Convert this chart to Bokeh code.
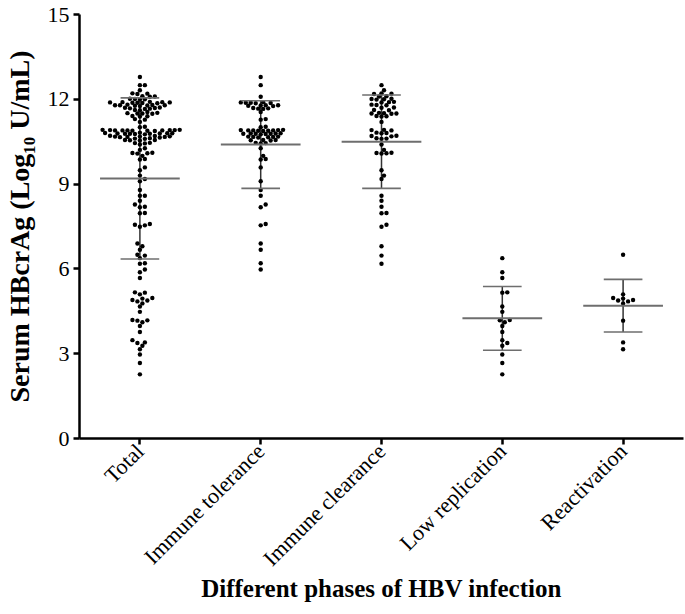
import math
from bokeh.plotting import figure
from bokeh.models import Range1d, FixedTicker, ColumnDataSource
from bokeh.embed import file_html
from bokeh.resources import INLINE

# ---------------- data ----------------
categories = ["Total", "Immune tolerance", "Immune clearance", "Low replication", "Reactivation"]

tolerance = [12.79, 12.50, 12.09,
             11.90, 11.88, 11.89, 11.87, 11.88, 11.86,
             11.79, 11.78, 11.77, 11.79, 11.76,
             11.68, 11.69, 11.67, 11.66,
             11.55, 11.30, 11.28, 11.03, 11.01,
             10.91, 10.90, 10.89, 10.92, 10.88, 10.90, 10.91, 10.89, 10.90,
             10.79, 10.78, 10.77, 10.80, 10.78, 10.76, 10.79, 10.78,
             10.67, 10.68, 10.66, 10.67, 10.65, 10.68,
             10.56, 10.55, 10.54, 10.56,
             10.45, 10.44, 10.46,
             10.27, 10.00, 9.89, 9.87, 9.59, 9.10, 8.79, 8.59, 8.28, 8.18,
             7.59, 7.54, 6.90, 6.68, 6.20, 5.98]

clearance = [12.50, 12.32, 12.21, 12.20, 12.19, 12.10, 12.11,
             12.02, 12.01, 12.00, 11.99, 11.90, 11.91, 11.89,
             11.80, 11.81, 11.79, 11.71, 11.70, 11.62, 11.61,
             11.50, 11.51, 11.49, 11.50, 11.52, 11.40, 11.41, 11.39,
             11.20, 10.91, 10.92, 10.90, 10.81, 10.80, 10.82,
             10.70, 10.71, 10.69, 10.61, 10.60, 10.62,
             10.40, 10.21, 10.09, 10.10, 10.08, 10.11,
             9.49, 9.30, 9.18, 8.59, 8.41, 8.20, 7.98, 7.97,
             7.56, 7.49, 6.80, 6.47, 6.18]

low_replication = [6.38, 5.88, 5.68, 5.17, 5.16, 4.67, 4.48, 4.18, 4.19,
                   4.11, 3.98, 3.77, 3.48, 3.38, 3.28, 2.97, 2.67, 2.27]

reactivation = [6.50, 5.10, 4.97, 4.95, 4.90, 4.88, 4.85, 4.78, 4.17, 3.40, 3.16]

# Total = all patients
total = tolerance + clearance + low_replication + reactivation

groups = [total, tolerance, clearance, low_replication, reactivation]

mean_vals = [9.20, 10.40, 10.50, 4.25, 4.70]
sd_vals = [2.85, 1.55, 1.65, 1.13, 0.93]

y_ticks = [0, 3, 6, 9, 12, 15]

# ---------------- layout ----------------
W, H = 685, 614
BL, BT, BR, BB = 76, 14, 2, 176
frame_w = W - BL - BR
frame_h = H - BT - BB
px_per_x = frame_w / 5.0
px_per_y = frame_h / 15.0


def swarm(vals, step=2.5, dmin=3.9):
    order = sorted(range(len(vals)), key=lambda i: vals[i])
    placed = []
    offs = [0.0] * len(vals)
    cands = [0.0]
    for j in range(1, 80):
        cands += [j * step, -j * step]
    for i in order:
        y = vals[i] * px_per_y
        chosen = 0.0
        for c in cands:
            ok = True
            for (px, py) in placed:
                if abs(py - y) < dmin and (c - px) ** 2 + (y - py) ** 2 < dmin ** 2:
                    ok = False
                    break
            if ok:
                chosen = c
                break
        placed.append((chosen, y))
        offs[i] = chosen
    return offs


xs, ys = [], []
for gi, vals in enumerate(groups):
    offs = swarm(vals)
    for v, o in zip(vals, offs):
        xs.append(gi + o / px_per_x)
        ys.append(v)

p = figure(width=W, height=H, output_backend="svg", toolbar_location=None,
           x_range=Range1d(-0.5, 4.5), y_range=Range1d(0, 15),
           min_border_left=BL, min_border_top=BT, min_border_right=BR,
           min_border_bottom=BB)
p.outline_line_color = None
p.grid.visible = False
p.background_fill_color = "white"

idx = list(range(len(categories)))
mean_half = 0.33
cap_half = 0.16
upper = [m + s for m, s in zip(mean_vals, sd_vals)]
lower = [m - s for m, s in zip(mean_vals, sd_vals)]

src = ColumnDataSource(dict(
    x=idx,
    xm0=[i - mean_half for i in idx], xm1=[i + mean_half for i in idx],
    xc0=[i - cap_half for i in idx], xc1=[i + cap_half for i in idx],
    mean=mean_vals, up=upper, lo=lower))

p.segment(x0="x", x1="x", y0="lo", y1="up", source=src, line_color="#333333", line_width=1.5)
p.scatter(xs, ys, size=4.4, color="black", line_color=None)
p.segment(x0="xm0", x1="xm1", y0="mean", y1="mean", source=src, line_color="#6e6e6e", line_width=2)
p.segment(x0="xc0", x1="xc1", y0="up", y1="up", source=src, line_color="#6e6e6e", line_width=1.6)
p.segment(x0="xc0", x1="xc1", y0="lo", y1="lo", source=src, line_color="#6e6e6e", line_width=1.6)

FONT = "Liberation Serif"
for ax in (p.xaxis[0], p.yaxis[0]):
    ax.axis_line_width = 2.5
    ax.axis_line_color = "black"
    ax.major_tick_line_width = 2.5
    ax.major_tick_line_color = "black"
    ax.major_tick_out = 6
    ax.major_tick_in = 0
    ax.minor_tick_line_color = None
    ax.major_label_text_font = FONT
    ax.major_label_text_color = "black"
    ax.axis_label_text_font = FONT
    ax.axis_label_text_font_style = "bold"
    ax.axis_label_text_color = "black"

p.xaxis.ticker = FixedTicker(ticks=idx)
p.xaxis.major_label_overrides = {i: c for i, c in zip(idx, categories)}
p.xaxis.major_label_orientation = math.pi / 4
p.xaxis.major_label_text_font_size = "22px"
p.xaxis.major_label_standoff = 3
p.xaxis.axis_label = "Different phases of HBV infection"
p.xaxis.axis_label_text_font_size = "25px"
p.xaxis.axis_label_standoff = -8

p.yaxis.ticker = FixedTicker(ticks=y_ticks)
p.yaxis.major_label_text_font_size = "22px"
p.yaxis.major_label_standoff = 4
p.yaxis.axis_label = "Serum HBcrAg (Log₁₀ U/mL)"
p.yaxis.axis_label_text_font_size = "28px"
p.yaxis.axis_label_standoff = 10

open("out.html", "w").write(file_html(p, INLINE))
